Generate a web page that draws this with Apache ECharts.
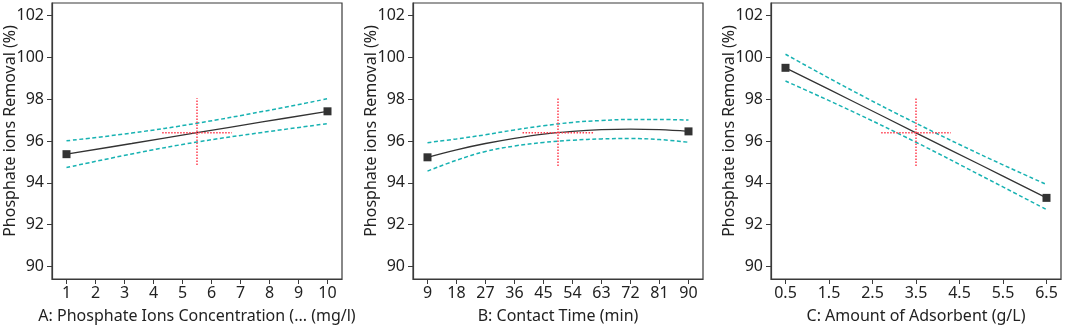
<!DOCTYPE html>
<html>
<head>
<meta charset="utf-8">
<script src="https://cdn.jsdelivr.net/npm/echarts@6/dist/echarts.min.js"></script>
<style>
  html, body { margin: 0; padding: 0; background: #fff; }
  #chart { width: 1065px; height: 330px; }
</style>
</head>
<body>
<div id="chart"></div>
<script>
// y axis (shared)
const yTicks = [90, 92, 94, 96, 98, 100, 102];
const yName = 'Phosphate ions Removal (%)';

// A: phosphate ions concentration
const aTicks = [1, 2, 3, 4, 5, 6, 7, 8, 9, 10];
const aX = [1, 3.25, 5.5, 7.75, 10];
const aMean = [95.37, 95.88, 96.4, 96.91, 97.42];
const aUpper = [96.01, 96.38, 96.85, 97.41, 98.02];
const aLower = [94.73, 95.38, 95.95, 96.41, 96.83];

// B: contact time
const bTicks = [9, 18, 27, 36, 45, 54, 63, 72, 81, 90];
const bX = [9, 18, 27, 36, 45, 54, 63, 72, 81, 90];
const bMean = [95.22, 95.58, 95.88, 96.13, 96.33, 96.46, 96.54, 96.57, 96.54, 96.46];
const bUpper = [95.92, 96.1, 96.3, 96.53, 96.73, 96.89, 96.98, 97.03, 97.03, 97.0];
const bLower = [94.56, 95.08, 95.5, 95.76, 95.93, 96.04, 96.1, 96.12, 96.07, 95.94];

// C: amount of adsorbent
const cTicks = [0.5, 1.5, 2.5, 3.5, 4.5, 5.5, 6.5];
const cX = [0.5, 2, 3.5, 5, 6.5];
const cMean = [99.5, 97.95, 96.39, 94.84, 93.28];
const cUpper = [100.15, 98.45, 96.85, 95.34, 93.92];
const cLower = [98.87, 97.45, 95.94, 94.34, 92.72];

// centre-point crosshair (x centre, y centre, half width in x, y low, y high)
const crossX = [5.5, 49.5, 3.5];
const crossY = [96.4, 96.4, 96.4];
const crossHalfX = [1.2, 11, 0.8];
const crossYLow = [94.85, 94.8, 94.8];
const crossYHigh = [98.05, 98.1, 98.05];

const panels = [
    { name: 'A: Phosphate Ions Concentration (... (mg/l)', ticks: aTicks, x: aX, mean: aMean, up: aUpper, lo: aLower, min: 0.5, max: 10.5, left: 52, fmt: v => String(v) },
    { name: 'B: Contact Time (min)', ticks: bTicks, x: bX, mean: bMean, up: bUpper, lo: bLower, min: 4.5, max: 94.5, left: 413, fmt: v => String(v) },
    { name: 'C: Amount of Adsorbent (g/L)', ticks: cTicks, x: cX, mean: cMean, up: cUpper, lo: cLower, min: 1 / 6, max: 6 + 5 / 6, left: 771, fmt: v => v.toFixed(1) }
];

const font = 'Noto Sans';
const zip = (xs, ys) => xs.map((x, i) => [x, ys[i]]);

const grid = [], xAxis = [], yAxis = [], series = [];

panels.forEach((p, i) => {
    grid.push({
        left: p.left, top: 3, width: 290, height: 276, outerBoundsMode: 'none',
        show: true, borderColor: '#3a3a3a', borderWidth: 1.2
    });
    xAxis.push({
        type: 'value', gridIndex: i, min: p.min, max: p.max,
        name: p.name, nameLocation: 'middle', nameGap: 29, nameMoveOverlap: false,
        nameTextStyle: { fontFamily: font, fontSize: 16, color: '#222' },
        axisLine: { show: true, lineStyle: { color: '#3a3a3a', width: 1.2 } },
        axisTick: { show: true, length: 5, customValues: p.ticks, lineStyle: { color: '#3a3a3a' } },
        axisLabel: { customValues: p.ticks, formatter: p.fmt, fontFamily: font, fontSize: 16, color: '#222', margin: 6 },
        splitLine: { show: false }
    });
    yAxis.push({
        type: 'value', gridIndex: i, min: 89.4, max: 102.6,
        name: yName, nameLocation: 'middle', nameGap: 34, nameMoveOverlap: false,
        nameTextStyle: { fontFamily: font, fontSize: 16, color: '#222', padding: [0, 0, 0, 20] },
        axisLine: { show: true, lineStyle: { color: '#3a3a3a', width: 1.2 } },
        axisTick: { show: true, length: 5, customValues: yTicks, lineStyle: { color: '#3a3a3a' } },
        axisLabel: { customValues: yTicks, fontFamily: font, fontSize: 16, color: '#222', margin: 8 },
        splitLine: { show: false }
    });

    const base = { xAxisIndex: i, yAxisIndex: i, type: 'line', symbol: 'none', silent: true, animation: false };
    const ciStyle = { color: '#17b2b2', width: 1.5, type: [4, 2.5] };
    series.push(Object.assign({}, base, { data: zip(p.x, p.up), smooth: 0.4, lineStyle: ciStyle }));
    series.push(Object.assign({}, base, { data: zip(p.x, p.lo), smooth: 0.4, lineStyle: ciStyle }));
    series.push(Object.assign({}, base, { data: zip(p.x, p.mean), smooth: 0.4, lineStyle: { color: '#333', width: 1.3 } }));
    // end-point markers
    const n = p.x.length - 1;
    series.push(Object.assign({}, base, {
        type: 'scatter', symbol: 'rect', symbolSize: 8, itemStyle: { color: '#000' },
        data: [[p.x[0], p.mean[0]], [p.x[n], p.mean[n]]]
    }));
    // crosshair at the centre point
    const dotted = { color: '#ff3d4f', width: 1.5, type: [1.5, 1.5] };
    series.push(Object.assign({}, base, {
        data: [[crossX[i] - crossHalfX[i], crossY[i]], [crossX[i] + crossHalfX[i], crossY[i]]], lineStyle: dotted
    }));
    series.push(Object.assign({}, base, {
        data: [[crossX[i], crossYLow[i]], [crossX[i], crossYHigh[i]]], lineStyle: dotted
    }));
});

const chart = echarts.init(document.getElementById('chart'));
chart.setOption({ animation: false, grid, xAxis, yAxis, series });
</script>
</body>
</html>
